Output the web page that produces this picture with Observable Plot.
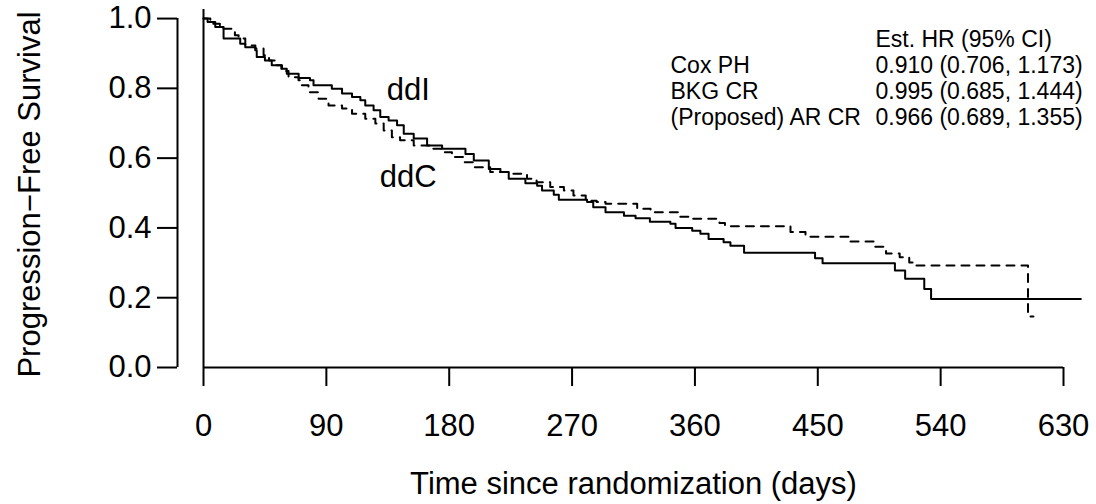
<!DOCTYPE html>
<html>
<head>
<meta charset="utf-8">
<script src="https://cdn.jsdelivr.net/npm/d3@7"></script>
<script src="https://cdn.jsdelivr.net/npm/@observablehq/plot@0.6"></script>
<style>
  html, body { margin: 0; padding: 0; background: white; }
</style>
</head>
<body>
<div id="chart"></div>
<script>
// ---- data ----
const xTicks = [0, 90, 180, 270, 360, 450, 540, 630];
const yTicks = [0.0, 0.2, 0.4, 0.6, 0.8, 1.0];

const ddiTime = [0, 3, 8.6, 14.7, 26.9, 30.6, 37.9, 39, 45, 50, 57.5, 61, 69.7, 78, 80.6, 94, 101.5, 108.8, 114.9, 118.5, 124.6, 129.5, 135.6, 141.8, 146.7, 154, 163.8, 174.8, 191.9, 198, 209, 217.5, 223.6, 235.8, 244.4, 248, 256.6, 260.3, 281, 285.5, 294.5, 308, 316.5, 327, 342, 345.8, 358, 364, 370, 381, 386, 396, 448, 453.5, 506.5, 514, 528, 533, 642.7];
const ddiSurv = [1.0, 0.99, 0.976, 0.943, 0.928, 0.918, 0.909, 0.89, 0.88, 0.866, 0.856, 0.842, 0.83, 0.823, 0.809, 0.799, 0.785, 0.775, 0.766, 0.751, 0.737, 0.718, 0.708, 0.694, 0.670, 0.656, 0.636, 0.627, 0.612, 0.593, 0.569, 0.560, 0.541, 0.528, 0.521, 0.507, 0.495, 0.481, 0.474, 0.459, 0.445, 0.435, 0.428, 0.418, 0.412, 0.400, 0.392, 0.383, 0.368, 0.359, 0.349, 0.329, 0.313, 0.299, 0.278, 0.254, 0.225, 0.196, 0.196];

const ddcTime = [0, 5, 12, 23, 25.7, 30.6, 38, 44, 48, 52.6, 57, 62.3, 69.6, 72, 76.9, 84.3, 91.6, 101.5, 108.8, 118.5, 125.9, 132, 138, 144, 154, 166, 174, 182, 190.6, 198, 210, 227, 237, 244, 254, 264, 271, 280, 288, 294.5, 317.7, 327.5, 349, 358, 378, 382, 430, 441, 473, 492, 500, 510, 517, 521, 604, 608];
const ddcSurv = [1.0, 0.985, 0.971, 0.952, 0.943, 0.923, 0.914, 0.895, 0.88, 0.866, 0.85, 0.832, 0.823, 0.809, 0.789, 0.770, 0.751, 0.742, 0.727, 0.713, 0.699, 0.679, 0.660, 0.651, 0.636, 0.627, 0.617, 0.603, 0.588, 0.574, 0.560, 0.555, 0.541, 0.531, 0.517, 0.507, 0.493, 0.478, 0.474, 0.469, 0.455, 0.445, 0.432, 0.426, 0.414, 0.405, 0.388, 0.375, 0.361, 0.346, 0.327, 0.316, 0.301, 0.292, 0.146, 0.146];

const curveNames = ["ddI", "ddC"];
const legendHeader = "Est. HR (95% CI)";
const legendMethods = ["Cox PH", "BKG CR", "(Proposed) AR CR"];
const legendHR = ["0.910 (0.706, 1.173)", "0.995 (0.685, 1.444)", "0.966 (0.689, 1.355)"];
const xLabel = "Time since randomization (days)";
const yLabel = "Progression\u2212Free Survival";

// ---- build tables ----
const ddi = ddiTime.map((t, i) => ({t, s: ddiSurv[i]}));
const ddc = ddcTime.map((t, i) => ({t, s: ddcSurv[i]}));

const FONT = "'Liberation Sans', Arial, Helvetica, sans-serif";

const chart = Plot.plot({
  width: 1096,
  height: 504,
  marginLeft: 203,
  marginRight: 33,
  marginTop: 9,
  marginBottom: 137,
  x: {domain: [xTicks[0], xTicks[xTicks.length - 1]]},
  y: {domain: [0, 1.026]},
  style: {fontFamily: FONT, fontSize: "31px", background: "white", color: "black", overflow: "visible"},
  marks: [
    // vertical reference line at time 0, full frame height
    Plot.ruleX([xTicks[0]], {stroke: "black", strokeWidth: 2}),
    // x axis line
    Plot.ruleY([yTicks[0]], {x1: xTicks[0], x2: xTicks[xTicks.length - 1], stroke: "black", strokeWidth: 2}),
    // y axis line (offset left, R style)
    Plot.ruleX([xTicks[0]], {y1: yTicks[0], y2: yTicks[yTicks.length - 1], dx: -26, stroke: "black", strokeWidth: 2}),
    Plot.axisX({ticks: xTicks, tickSize: 19, tickPadding: 27, strokeWidth: 2, label: null, fontSize: 31, tickFormat: d3.format("d")}),
    Plot.axisY({ticks: yTicks, tickSize: 20, tickPadding: 6, dx: -26, strokeWidth: 2, label: null, fontSize: 31, tickFormat: d3.format(".1f")}),
    // survival curves
    Plot.line(ddi, {x: "t", y: "s", curve: "step-after", stroke: "black", strokeWidth: 2}),
    Plot.line(ddc, {x: "t", y: "s", curve: "step-after", stroke: "black", strokeWidth: 2, strokeDasharray: "8,7"}),
    // curve labels
    Plot.text([curveNames[0]], {x: 150, y: 0.794, fontSize: 31}),
    Plot.text([curveNames[1]], {x: 150, y: 0.547, fontSize: 31}),
    // legend table
    Plot.text([["", ...legendMethods].join("\n")], {frameAnchor: "top-left", dx: 467, dy: 19, textAnchor: "start", lineAnchor: "top", lineHeight: 1.13, fontSize: 23}),
    Plot.text([[legendHeader, ...legendHR].join("\n")], {frameAnchor: "top-left", dx: 672, dy: 19, textAnchor: "start", lineAnchor: "top", lineHeight: 1.13, fontSize: 23}),
    // axis titles
    Plot.text([xLabel], {frameAnchor: "bottom", dy: 126, fontSize: 31}),
    Plot.text([yLabel], {frameAnchor: "left", dx: -173, dy: 6, rotate: -90, textAnchor: "middle", lineAnchor: "middle", fontSize: 31})
  ]
});
document.getElementById("chart").appendChild(chart);
</script>
</body>
</html>
